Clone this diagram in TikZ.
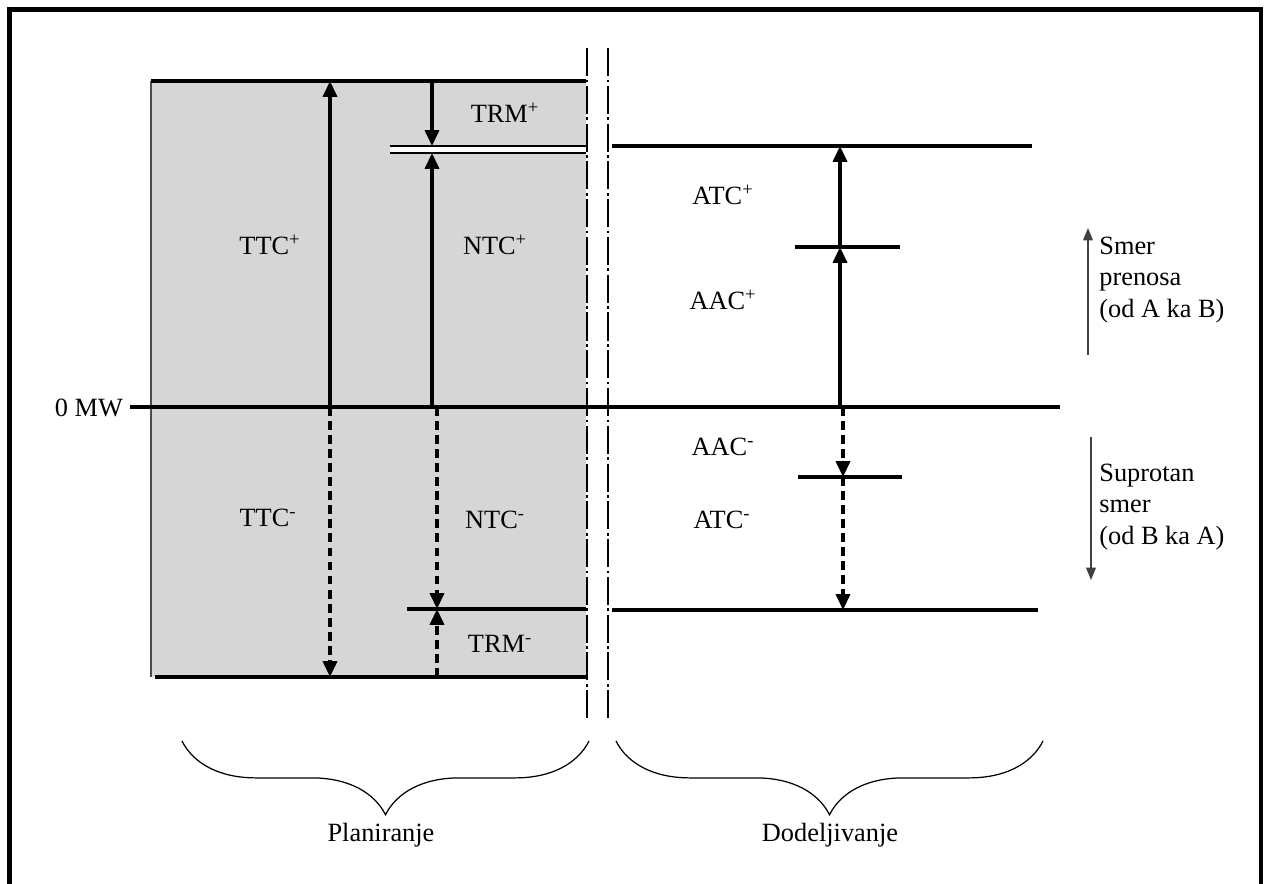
\documentclass[tikz,border=0pt]{standalone}
\usepackage{fontspec}
\setmainfont{Liberation Serif}
\usepackage{tikz}
\usetikzlibrary{arrows.meta, decorations.pathreplacing}

\definecolor{plangray}{RGB}{214,214,214}

\begin{document}
\begin{tikzpicture}[
    x=0.02cm, y=-0.02cm,
    font=\fontsize{15}{18}\selectfont,
    level/.style={line width=2pt},
    thinlevel/.style={line width=1.1pt},
    dim/.style={line width=1.8pt, -{Triangle[length=9pt, width=8pt]}},
    dimdash/.style={dim, dash pattern=on 5pt off 3pt},
    cutline/.style={line width=1pt, dash pattern=on 16pt off 2pt on 1.5pt off 2pt},
    dirarr/.style={line width=0.9pt, draw=black!75, -{Triangle[length=7pt, width=5.5pt]}},
    lbl/.style={inner sep=1pt},
    brc/.style={decorate, decoration={brace, mirror, amplitude=42pt}, line width=0.7pt},
]
\useasboundingbox (0,0) rectangle (1265,884);
\draw[line width=2.6pt] (9.5,884) -- (9.5,9.5) -- (1261,9.5) -- (1261,884);

% planning area
\fill[plangray] (151,81) rectangle (586,677);
\draw[line width=0.6pt, black!70] (151,81) -- (151,677);
\draw[level] (151,81) -- (586,81);
\draw[level] (155,677) -- (586,677);
\fill[white] (390,146) rectangle (586,153);
\draw[thinlevel] (390,146) -- (586,146);
\draw[thinlevel] (390,153) -- (586,153);
\draw[level] (407,609) -- (586,609);

% zero line and allocation levels
\draw[level] (130,407) -- (1060,407);
\draw[level] (612,146) -- (1032,146);
\draw[level] (795,247) -- (900,247);
\draw[level] (798,477) -- (902,477);
\draw[level] (612,610) -- (1038,610);

\draw[cutline] (587,48) -- (587,718);
\draw[cutline] (608,48) -- (608,718);

\coordinate (ttcTop) at (330,81);
\coordinate (ttcZero) at (330,407);
\coordinate (ttcBot) at (330,677);
\coordinate (trmTop) at (432,81);
\coordinate (trmHi) at (432,146);
\coordinate (ntcHi) at (432,153);
\coordinate (ntcZero) at (432,407);
\coordinate (ntcmZero) at (437,407);
\coordinate (ntcLo) at (437,609);
\coordinate (trmLo) at (437,677);
\coordinate (atcHi) at (840,146);
\coordinate (aacHi) at (840,247);
\coordinate (aacZero) at (840,407);
\coordinate (aacmZero) at (843,407);
\coordinate (aacLo) at (843,477);
\coordinate (atcLo) at (843,610);

\draw[dim] (ttcZero) -- (ttcTop);
\draw[dimdash] (ttcZero) -- (ttcBot);
\draw[dim] (trmTop) -- (trmHi);
\draw[dim] (ntcZero) -- (ntcHi);
\draw[dimdash] (ntcmZero) -- (ntcLo);
\draw[dimdash] (trmLo) -- (ntcLo);
\draw[dim] (aacHi) -- (atcHi);
\draw[dim] (aacZero) -- (aacHi);
\draw[dimdash] (aacmZero) -- (aacLo);
\draw[dimdash] (aacLo) -- (atcLo);

\node[lbl] (zero) at (89,408) {0 MW};
\node[lbl] (ttcp) at (270,245) {TTC\textsuperscript{+}};
\node[lbl] (ntcp) at (495,245) {NTC\textsuperscript{+}};
\node[lbl] (trmp) at (505,113) {TRM\textsuperscript{+}};
\node[lbl] (ttcm) at (268,518) {TTC\textsuperscript{-}};
\node[lbl] (ntcm) at (495,520) {NTC\textsuperscript{-}};
\node[lbl] (trmm) at (500,644) {TRM\textsuperscript{-}};
\node[lbl] (atcp) at (723,195) {ATC\textsuperscript{+}};
\node[lbl] (aacp) at (723,300) {AAC\textsuperscript{+}};
\node[lbl] (aacm) at (723,447) {AAC\textsuperscript{-}};
\node[lbl] (atcm) at (722,520) {ATC\textsuperscript{-}};

% transfer direction
\coordinate (upFrom) at (1088,355);
\coordinate (upTo) at (1088,228);
\coordinate (downFrom) at (1091,437);
\coordinate (downTo) at (1091,580);
\draw[dirarr] (upFrom) -- (upTo);
\draw[dirarr] (downFrom) -- (downTo);
\node[anchor=west, align=left, inner sep=0pt] (fwd) at (1099,280) {Smer\\prenosa\\(od A ka B)};
\node[anchor=west, align=left, inner sep=0pt] (rev) at (1099,507) {Suprotan\\smer\\(od B ka A)};

% phases
\draw[brc] (182,741) -- (589,741);
\draw[brc] (616,741) -- (1043,741);
\node (plan) at (381,835) {Planiranje};
\node (dodel) at (830,835) {Dodeljivanje};
\end{tikzpicture}
\end{document}
